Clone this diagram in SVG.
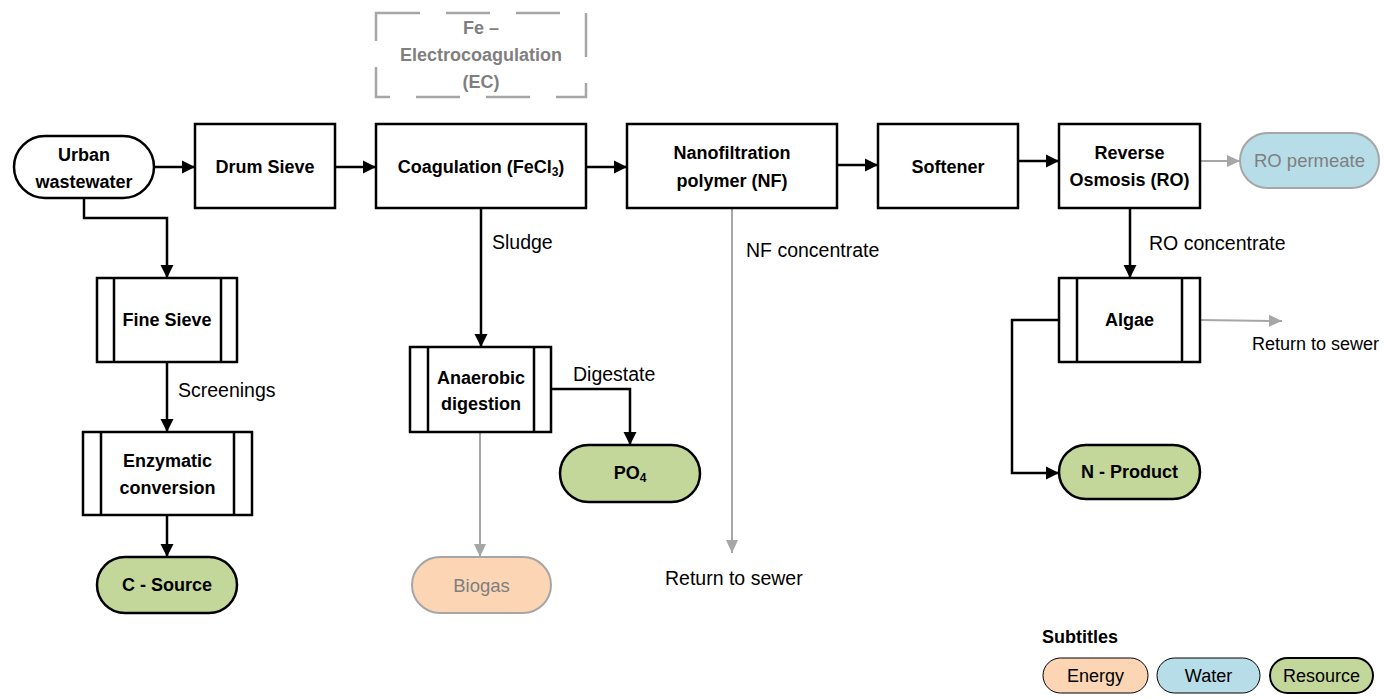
<svg xmlns="http://www.w3.org/2000/svg" width="1384" height="698" viewBox="0 0 1384 698">
<defs>
<marker id="ab" markerUnits="userSpaceOnUse" markerWidth="14" markerHeight="14" refX="13" refY="7" orient="auto"><path d="M0,0.5 L13,7 L0,13.5 z" fill="#000"/></marker>
<marker id="ag" markerUnits="userSpaceOnUse" markerWidth="14" markerHeight="14" refX="13" refY="7" orient="auto"><path d="M0,1 L13,7 L0,13 z" fill="#a6a6a6"/></marker>
<style>
text{font-family:"Liberation Sans",Arial,sans-serif;font-size:19.5px;fill:#000}
.b{font-weight:bold;font-size:18px}
.g{fill:#7f7f7f}
.n{font-size:18.5px}
.lg{font-size:18px}
.rs{font-size:18px}
.box{fill:#fff;stroke:#000;stroke-width:2.5}
.st{stroke:#000;stroke-width:2.5}
.c{fill:none;stroke:#000;stroke-width:2.5;marker-end:url(#ab)}
.cg{fill:none;stroke:#a6a6a6;stroke-width:2;marker-end:url(#ag)}
.res{fill:#c4d79b;stroke:#000;stroke-width:2.5}
.wat{fill:#b7dde8;stroke:#a6a6a6;stroke-width:2}
.en{fill:#fcd5b5;stroke:#a6a6a6;stroke-width:2}
</style>
</defs>
<rect width="1384" height="698" fill="#fff"/>

<g id="connectors">
<path class="c" d="M154,167 L195,167"/>
<path class="c" d="M335,167 L376,167"/>
<path class="c" d="M586,167 L627,167"/>
<path class="c" d="M837,165 L878,165"/>
<path class="c" d="M1018,161 L1059,161"/>
<path class="cg" d="M1200,161 L1240,161"/>
<path class="c" d="M84,198 L84,218 L167,218 L167,278"/>
<path class="c" d="M167,362 L167,432"/>
<path class="c" d="M167,515 L167,557"/>
<path class="c" d="M481,208 L481,347"/>
<path class="c" d="M551,389 L630,389 L630,445"/>
<path class="cg" d="M480,432 L480,557"/>
<path class="cg" d="M732,208 L732,553"/>
<path class="c" d="M1130,208 L1130,278"/>
<path class="cg" d="M1200,320 L1282,321"/>
<path class="c" d="M1059,320 L1012,320 L1012,473 L1059,473"/>
<text x="492" y="249">Sludge</text>
<text x="746" y="257">NF concentrate</text>
<text x="665" y="585">Return to sewer</text>
<text x="1149" y="250">RO concentrate</text>
<text class="rs" x="1252" y="350">Return to sewer</text>
<text x="178" y="397">Screenings</text>
<text x="573" y="381">Digestate</text>
</g>

<g id="urban">
<rect class="box" x="14" y="136" width="140" height="62" rx="31"/>
<text class="b" x="84" y="161" text-anchor="middle">Urban</text>
<text class="b" x="84" y="188" text-anchor="middle">wastewater</text>
</g>
<g id="drum">
<rect class="box" x="195" y="124" width="140" height="84"/>
<text class="b" x="265" y="173" text-anchor="middle">Drum Sieve</text>
</g>
<g id="ec">
<rect x="376" y="13" width="210" height="84" fill="none" stroke="#a6a6a6" stroke-width="2.5" stroke-dasharray="44,26"/>
<text class="b g" x="481" y="34" text-anchor="middle">Fe –</text>
<text class="b g" x="481" y="61" text-anchor="middle">Electrocoagulation</text>
<text class="b g" x="481" y="88" text-anchor="middle">(EC)</text>
</g>
<g id="coag">
<rect class="box" x="376" y="124" width="210" height="84"/>
<text class="b" x="481" y="173" text-anchor="middle">Coagulation (FeCl<tspan font-size="12" dy="3">3</tspan><tspan dy="-3">)</tspan></text>
</g>
<g id="nf">
<rect class="box" x="627" y="124" width="210" height="84"/>
<text class="b" x="732" y="159" text-anchor="middle">Nanofiltration</text>
<text class="b" x="732" y="187" text-anchor="middle">polymer (NF)</text>
</g>
<g id="softener">
<rect class="box" x="878" y="124" width="140" height="84"/>
<text class="b" x="948" y="173" text-anchor="middle">Softener</text>
</g>
<g id="ro">
<rect class="box" x="1059" y="124" width="141" height="84"/>
<text class="b" x="1129.5" y="159" text-anchor="middle">Reverse</text>
<text class="b" x="1129.5" y="186" text-anchor="middle">Osmosis (RO)</text>
</g>
<g id="ropermeate">
<rect class="wat" x="1240" y="133" width="139" height="55" rx="27.5"/>
<text class="g n" x="1309.5" y="167" text-anchor="middle">RO permeate</text>
</g>
<g id="algae">
<rect class="box" x="1059" y="278" width="141" height="84"/>
<path class="st" d="M1077,278 V362 M1182,278 V362"/>
<text class="b" x="1129.5" y="326" text-anchor="middle">Algae</text>
</g>
<g id="nproduct">
<rect class="res" x="1059" y="445" width="141" height="54" rx="27"/>
<text class="b" x="1129.5" y="478" text-anchor="middle">N - Product</text>
</g>
<g id="finesieve">
<rect class="box" x="97" y="278" width="140" height="84"/>
<path class="st" d="M114,278 V362 M221,278 V362"/>
<text class="b" x="167" y="326" text-anchor="middle">Fine Sieve</text>
</g>
<g id="enzymatic">
<rect class="box" x="83" y="432" width="169" height="83"/>
<path class="st" d="M101,432 V515 M234,432 V515"/>
<text class="b" x="167.5" y="467" text-anchor="middle">Enzymatic</text>
<text class="b" x="167.5" y="494" text-anchor="middle">conversion</text>
</g>
<g id="csource">
<rect class="res" x="97" y="557" width="140" height="56" rx="28"/>
<text class="b" x="167" y="591" text-anchor="middle">C - Source</text>
</g>
<g id="anaerobic">
<rect class="box" x="410" y="347" width="141" height="85"/>
<path class="st" d="M428,347 V432 M534,347 V432"/>
<text class="b" x="481" y="384" text-anchor="middle">Anaerobic</text>
<text class="b" x="481" y="410" text-anchor="middle">digestion</text>
</g>
<g id="po4">
<rect class="res" x="560" y="445" width="140" height="57" rx="28.5"/>
<text class="b" x="630" y="479" text-anchor="middle">PO<tspan font-size="12" dy="3">4</tspan></text>
</g>
<g id="biogas">
<rect class="en" x="412" y="557" width="139" height="56" rx="28"/>
<text class="g n" x="481.5" y="592" text-anchor="middle">Biogas</text>
</g>
<g id="legend">
<text class="b" x="1042" y="643">Subtitles</text>
<rect x="1043" y="658" width="105" height="35" rx="17.5" fill="#fcd5b5" stroke="#000" stroke-width="1"/>
<text class="lg" x="1095.5" y="682" text-anchor="middle">Energy</text>
<rect x="1157" y="658" width="103" height="35" rx="17.5" fill="#b7dde8" stroke="#000" stroke-width="1"/>
<text class="lg" x="1208.5" y="682" text-anchor="middle">Water</text>
<rect x="1270" y="658" width="103" height="35" rx="17.5" fill="#c4d79b" stroke="#000" stroke-width="2"/>
<text class="lg" x="1321.5" y="682" text-anchor="middle">Resource</text>
</g>
</svg>
